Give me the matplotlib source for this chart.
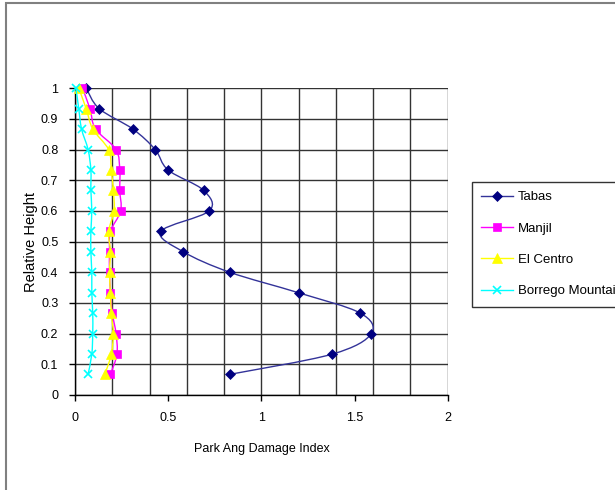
import numpy as np
import matplotlib.pyplot as plt
from matplotlib.path import Path
from matplotlib.patches import PathPatch, Rectangle
from matplotlib.lines import Line2D
from matplotlib.ticker import MultipleLocator, FuncFormatter

plt.rcParams['font.family'] = ['Liberation Sans', 'DejaVu Sans']

# storey levels (relative height), top to bottom
height = [1.0, 0.933, 0.867, 0.8, 0.733, 0.667, 0.6, 0.533,
          0.467, 0.4, 0.333, 0.267, 0.2, 0.133, 0.067]

tabas = [0.06, 0.13, 0.31, 0.43, 0.50, 0.69, 0.72, 0.46,
         0.58, 0.83, 1.20, 1.53, 1.59, 1.38, 0.83]
manjil = [0.04, 0.08, 0.11, 0.22, 0.24, 0.24, 0.245, 0.19,
          0.185, 0.185, 0.19, 0.20, 0.22, 0.225, 0.19]
el_centro = [0.02, 0.06, 0.095, 0.18, 0.195, 0.205, 0.21, 0.18,
             0.19, 0.185, 0.19, 0.195, 0.205, 0.195, 0.16]
borrego = [0.005, 0.02, 0.035, 0.07, 0.085, 0.085, 0.09, 0.085,
           0.085, 0.09, 0.09, 0.095, 0.095, 0.09, 0.07]

series = [
    ("Tabas", tabas, '#333399', '#000080', 'D', 5.5),
    ("Manjil", manjil, '#FF00FF', '#FF00FF', 's', 6),
    ("El Centro", el_centro, '#FFFF00', '#FFFF00', '^', 7),
    ("Borrego Mountain", borrego, '#00FFFF', '#00FFFF', 'x', 6),
]


def smooth_path(xs, ys):
    # cubic Bezier through the points (Catmull-Rom style, like Excel smoothing)
    pts = np.column_stack([xs, ys])
    verts = [pts[0]]
    codes = [Path.MOVETO]
    n = len(pts)
    for i in range(n - 1):
        p0 = pts[i - 1] if i > 0 else pts[i]
        p1, p2 = pts[i], pts[i + 1]
        p3 = pts[i + 2] if i + 2 < n else pts[i + 1]
        verts += [p1 + (p2 - p0) / 6, p2 - (p3 - p1) / 6, p2]
        codes += [Path.CURVE4] * 3
    return Path(verts, codes)


fig = plt.figure(figsize=(6.15, 4.9), dpi=100)
fig.patches.append(Rectangle((0.009, -0.05), 1.2, 1.044, transform=fig.transFigure,
                             fill=False, edgecolor='#808080', linewidth=1.5))

ax = fig.add_axes([0.122, 0.194, 0.606, 0.626])

handles = []
for z, (name, vals, lc, mc, mk, ms) in enumerate(series):
    ax.add_patch(PathPatch(smooth_path(vals, height), fill=False, edgecolor=lc,
                           linewidth=1.0, zorder=3 + z))
    mew = 1.2 if mk == 'x' else 0.5
    ax.plot(vals, height, linestyle='none', marker=mk, markersize=ms,
            markerfacecolor=mc, markeredgecolor=mc, markeredgewidth=mew,
            zorder=3 + z, clip_on=False)
    handles.append(Line2D([], [], color=lc, linewidth=1.0, marker=mk, markersize=ms,
                          markerfacecolor=mc, markeredgecolor=mc,
                          markeredgewidth=mew, label=name))

ax.set_xlim(0, 2)
ax.set_ylim(0, 1)
ax.xaxis.set_major_locator(MultipleLocator(0.5))
ax.xaxis.set_minor_locator(MultipleLocator(0.2))
ax.xaxis.remove_overlapping_locs = False
ax.yaxis.set_major_locator(MultipleLocator(0.1))
ax.xaxis.set_major_formatter(FuncFormatter(lambda v, pos: f"{v:g}"))
ax.yaxis.set_major_formatter(FuncFormatter(lambda v, pos: f"{round(v, 1):g}"))

ax.grid(False)
ax.grid(True, which='minor', axis='x', color='#333333', linewidth=1.0)
ax.grid(True, which='major', axis='y', color='#333333', linewidth=1.0)
ax.set_axisbelow(True)
for s in ['top', 'right']:
    ax.spines[s].set_visible(False)
for s in ['left', 'bottom']:
    ax.spines[s].set_color('black')
    ax.spines[s].set_linewidth(1.0)

ax.tick_params(axis='both', which='major', direction='out', length=4,
               labelsize=9, color='black', width=1.0, pad=8)
ax.tick_params(axis='x', which='minor', length=0)

ax.set_xlabel("Park Ang Damage Index", fontsize=9, labelpad=14)
ax.set_ylabel("Relative Height", fontsize=10.5, labelpad=2)

leg = fig.legend(handles=handles, loc='upper left', bbox_to_anchor=(0.767, 0.629),
                 bbox_transform=fig.transFigure, fontsize=9.5, frameon=True,
                 fancybox=False, edgecolor='black', handlelength=2.4,
                 labelspacing=1.45, borderpad=0.7, handletextpad=0.4,
                 borderaxespad=0)
leg.get_frame().set_linewidth(1.0)

fig.savefig("out.png", dpi=100)
